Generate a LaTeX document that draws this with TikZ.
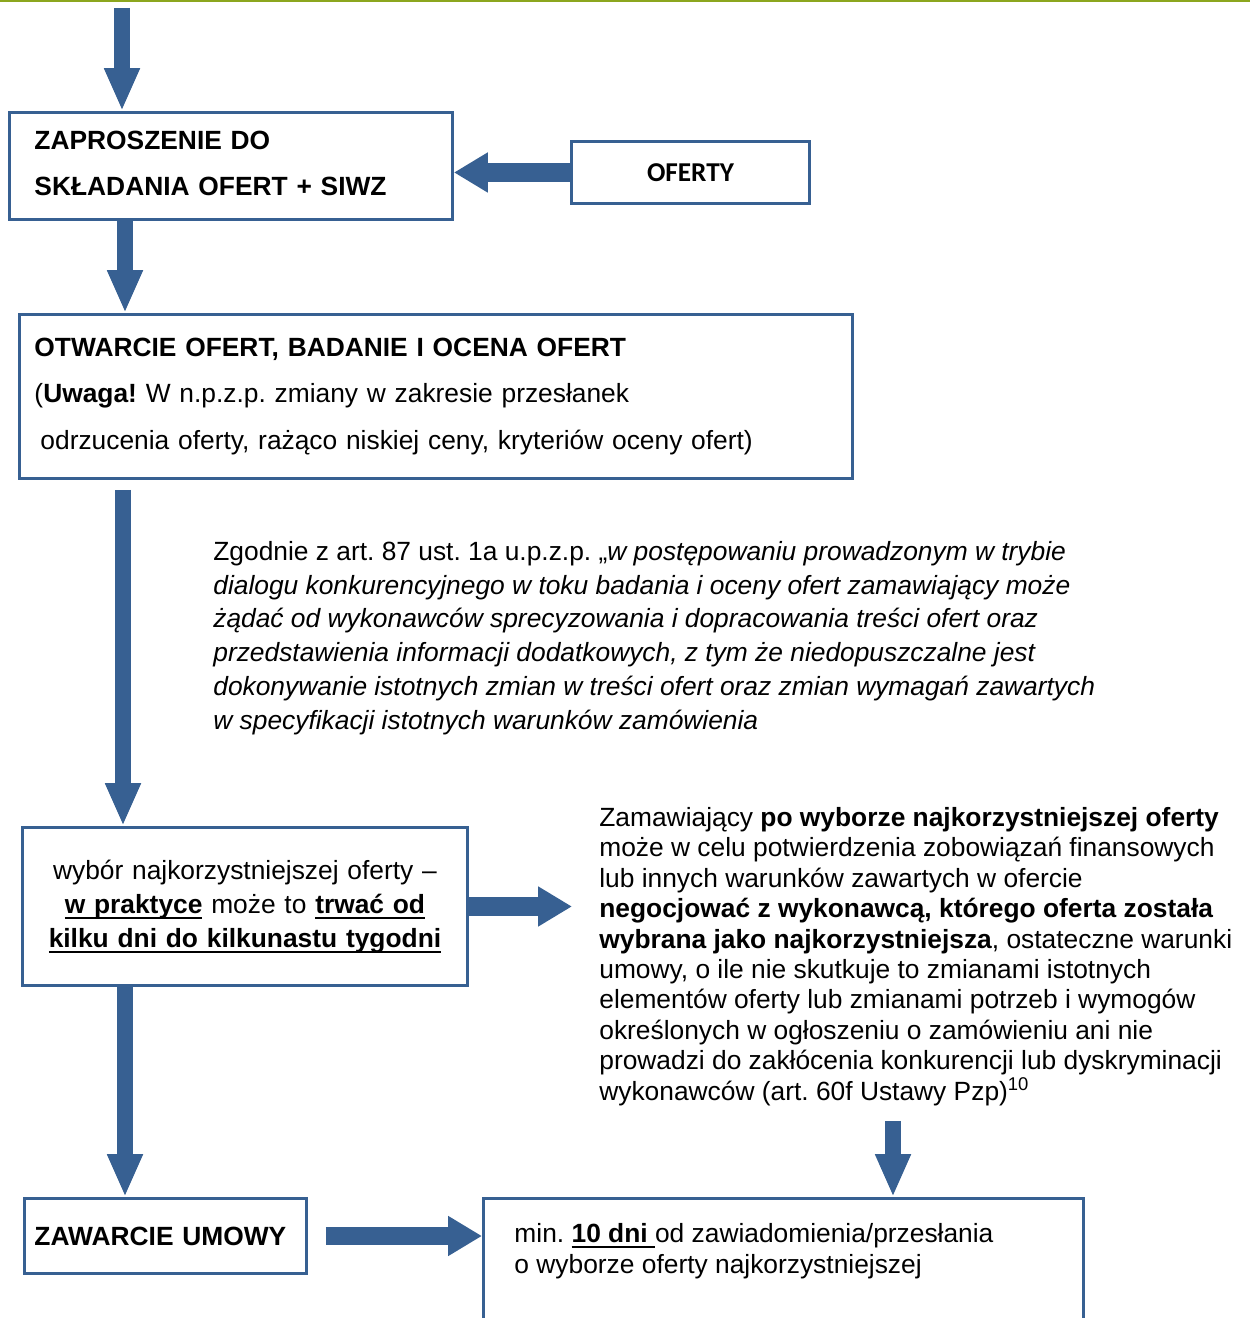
\documentclass[tikz,border=0pt]{standalone}
\usepackage{fontspec}
\setmainfont{Liberation Sans}
\newfontfamily\calibri{Carlito}
\usetikzlibrary{arrows.meta}
\definecolor{niebieski}{RGB}{55,96,146}
\definecolor{zielony}{RGB}{140,166,30}
\newcommand\podkr[1]{\leavevmode\setbox0=\hbox{#1}\rlap{\vrule height -2pt depth 3.1pt width \wd0}\box0\relax}
\frenchspacing
\tikzset{
  blok/.style={draw=niebieski, line width=1.7pt, anchor=north west},
  strzalkaV/.style={niebieski, line width=9.35pt, -{Triangle[length=24.4pt,width=18.7pt]}},
  strzalkaH/.style={niebieski, line width=10.5pt, -{Triangle[length=19.3pt,width=21.5pt]}},
}
\begin{document}
\begin{tikzpicture}[x=0.02cm,y=-0.02cm]
\useasboundingbox (0,0) rectangle (1250,1318);
\clip (0,0) rectangle (1250,1318);
\draw[zielony, line width=1.7pt] (0,1) -- (1250,1);
\coordinate (start) at (122,8);
\coordinate (os1) at (125,0);
\coordinate (os2) at (123,0);
\coordinate (os3) at (893,0);
\coordinate (os4) at (125,0);
\node[blok, minimum width=8.86cm, minimum height=2.14cm, inner xsep=0.5cm, text width=7.86cm, align=left,
  font=\fontsize{15}{26.1}\selectfont\bfseries] (zaproszenie) at (8,111)
  {ZAPROSZENIE DO\\SKŁADANIA OFERT + SIWZ\vspace*{0.1cm}};
\node[blok, minimum width=4.76cm, minimum height=1.24cm, font=\calibri\fontsize{15.5}{18}\selectfont\bfseries]
  (oferty) at (570,140) {OFERTY};
\node[blok, minimum width=16.66cm, minimum height=3.28cm, inner xsep=0.3cm, text width=16.06cm, align=left,
  font=\fontsize{15}{26.4}\selectfont] (otwarcie) at (18,313)
  {\textbf{OTWARCIE OFERT, BADANIE I OCENA OFERT}\\
   (\textbf{Uwaga!} W n.p.z.p. zmiany w zakresie przesłanek\\
   \hspace*{0.12cm}odrzucenia oferty, rażąco niskiej ceny, kryteriów oceny ofert)};
\node[anchor=north west, inner sep=0, align=left, font=\fontsize{15}{19.2}\selectfont] (zgodnie) at (213,541)
  {Zgodnie z art. 87 ust. 1a u.p.z.p. „\textit{w postępowaniu prowadzonym w trybie}\\
   \textit{dialogu konkurencyjnego w toku badania i oceny ofert zamawiający może}\\
   \textit{żądać od wykonawców sprecyzowania i dopracowania treści ofert oraz}\\
   \textit{przedstawienia informacji dodatkowych, z tym że niedopuszczalne jest}\\
   \textit{dokonywanie istotnych zmian w treści ofert oraz zmian wymagań zawartych}\\
   \textit{w specyfikacji istotnych warunków zamówienia}};
\node[blok, minimum width=8.9cm, minimum height=3.16cm, text width=8.5cm, align=center,
  font=\fontsize{15}{19.3}\selectfont] (wybor) at (21,826)
  {wybór najkorzystniejszej oferty --\\
   \podkr{\textbf{w praktyce}} może to \podkr{\textbf{trwać od}}\\
   \podkr{\textbf{kilku dni do kilkunastu tygodni}}};
\node[anchor=north west, inner sep=0, align=left, font=\fontsize{15}{17.3}\selectfont] (negocjacje) at (599,807)
  {Zamawiający \textbf{po wyborze najkorzystniejszej oferty}\\
   może w celu potwierdzenia zobowiązań finansowych\\
   lub innych warunków zawartych w ofercie\\
   \textbf{negocjować z wykonawcą, którego oferta została}\\
   \textbf{wybrana jako najkorzystniejsza}, ostateczne warunki\\
   umowy, o ile nie skutkuje to zmianami istotnych\\
   elementów oferty lub zmianami potrzeb i wymogów\\
   określonych w ogłoszeniu o zamówieniu ani nie\\
   prowadzi do zakłócenia konkurencji lub dyskryminacji\\
   wykonawców (art. 60f Ustawy Pzp)\textsuperscript{10}};
\node[blok, minimum width=5.64cm, minimum height=1.5cm, inner xsep=0.2cm, text width=5.24cm, align=left,
  font=\fontsize{15}{18}\selectfont\bfseries] (zawarcie) at (23,1197) {ZAWARCIE UMOWY};
\node[blok, inner xsep=0.62cm, inner ysep=0.5cm, font=\fontsize{15}{17.6}\selectfont] (termin) at (482,1197)
  {\parbox[t][2.2cm][t]{10.76cm}{\raggedright
   min. \podkr{\textbf{10 dni }}od zawiadomienia/przesłania\\
   o wyborze oferty najkorzystniejszej}};
\draw[strzalkaV] (start) -- (start |- zaproszenie.north);
\draw[strzalkaH] (oferty.west) -- (oferty.west -| zaproszenie.east);
\draw[strzalkaV] (os1 |- zaproszenie.south) -- (os1 |- otwarcie.north);
\draw[strzalkaV, shorten <=0.2cm] (os2 |- otwarcie.south) -- (os2 |- wybor.north);
\draw[strzalkaH, shorten >=0.54cm] (wybor.east) -- (wybor.east -| negocjacje.west);
\draw[strzalkaV] (os4 |- wybor.south) -- (os4 |- zawarcie.north);
\draw[strzalkaV, shorten <=0.3cm] (os3 |- negocjacje.south) -- (os3 |- termin.north);
\draw[strzalkaH, shorten <=0.36cm] (zawarcie.east) -- (zawarcie.east -| termin.west);
\end{tikzpicture}
\end{document}
